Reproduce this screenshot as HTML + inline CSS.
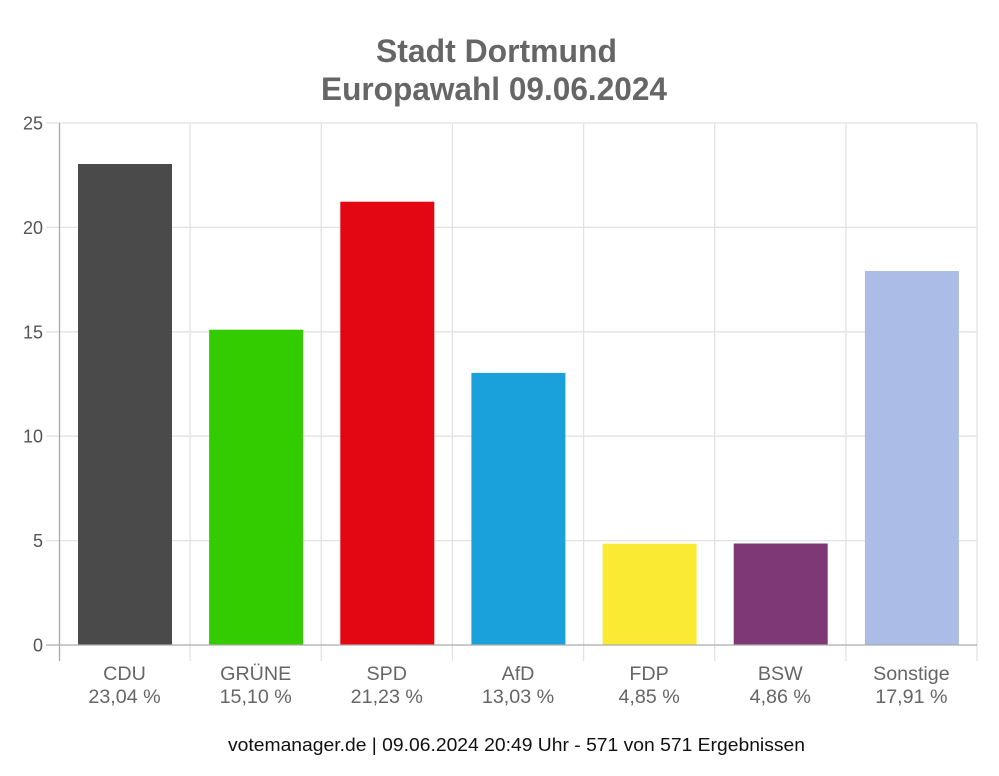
<!DOCTYPE html>
<html>
<head>
<meta charset="utf-8">
<style>
  html,body{margin:0;padding:0;background:#fff;}
  svg{display:block;}
  text{font-family:"Liberation Sans", Arial, sans-serif;}
</style>
</head>
<body>
<svg width="999" height="776" viewBox="0 0 999 776" xmlns="http://www.w3.org/2000/svg">
  <rect width="999" height="776" fill="#fff"/>
  <!-- Title -->
  <text x="496.5" y="62" text-anchor="middle" font-size="32" font-weight="bold" fill="#666" textLength="241" lengthAdjust="spacingAndGlyphs">Stadt Dortmund</text>
  <text x="494" y="100" text-anchor="middle" font-size="32" font-weight="bold" fill="#666" textLength="346" lengthAdjust="spacingAndGlyphs">Europawahl 09.06.2024</text>

  <!-- horizontal gridlines -->
  <g stroke="#e2e2e2" stroke-width="1.3">
    <line x1="46" y1="123" x2="977" y2="123"/>
    <line x1="46" y1="227.4" x2="977" y2="227.4"/>
    <line x1="46" y1="331.8" x2="977" y2="331.8"/>
    <line x1="46" y1="436.2" x2="977" y2="436.2"/>
    <line x1="46" y1="540.6" x2="977" y2="540.6"/>
  </g>
  <!-- vertical gridlines -->
  <g stroke="#e2e2e2" stroke-width="1.3">
    <line x1="190.1" y1="123" x2="190.1" y2="661"/>
    <line x1="321.3" y1="123" x2="321.3" y2="661"/>
    <line x1="452.4" y1="123" x2="452.4" y2="661"/>
    <line x1="583.6" y1="123" x2="583.6" y2="661"/>
    <line x1="714.7" y1="123" x2="714.7" y2="661"/>
    <line x1="845.9" y1="123" x2="845.9" y2="661"/>
    <line x1="977" y1="123" x2="977" y2="661"/>
  </g>

  <!-- bars -->
  <rect x="78" y="164" width="94" height="481" fill="#4a4a4a"/>
  <rect x="209.1" y="329.7" width="94" height="315.3" fill="#33cc00"/>
  <rect x="340.3" y="201.7" width="94" height="443.3" fill="#e30613"/>
  <rect x="471.4" y="372.9" width="94" height="272.1" fill="#1aa0db"/>
  <rect x="602.6" y="543.7" width="94" height="101.3" fill="#faea33"/>
  <rect x="733.7" y="543.5" width="94" height="101.5" fill="#7e3876"/>
  <rect x="864.9" y="271" width="94" height="374" fill="#abbde6"/>

  <!-- axes -->
  <line x1="59.5" y1="123" x2="59.5" y2="661" stroke="#aaa" stroke-width="1.3"/>
  <line x1="46" y1="645" x2="977" y2="645" stroke="#aaa" stroke-width="1.3"/>

  <!-- y labels -->
  <g font-size="18" fill="#555" text-anchor="end">
    <text x="43" y="129.5">25</text>
    <text x="43" y="233.9">20</text>
    <text x="43" y="338.3">15</text>
    <text x="43" y="442.7">10</text>
    <text x="43" y="547.1">5</text>
    <text x="43" y="651.5">0</text>
  </g>

  <!-- x labels -->
  <g font-size="19.7" fill="#666" text-anchor="middle">
    <text x="124.5" y="680">CDU</text>
    <text x="124.5" y="703">23,04 %</text>
    <text x="255.7" y="680">GRÜNE</text>
    <text x="255.7" y="703">15,10 %</text>
    <text x="386.8" y="680">SPD</text>
    <text x="386.8" y="703">21,23 %</text>
    <text x="518" y="680">AfD</text>
    <text x="518" y="703">13,03 %</text>
    <text x="649.1" y="680">FDP</text>
    <text x="649.1" y="703">4,85 %</text>
    <text x="780.3" y="680">BSW</text>
    <text x="780.3" y="703">4,86 %</text>
    <text x="911.4" y="680">Sonstige</text>
    <text x="911.4" y="703">17,91 %</text>
  </g>

  <!-- footer -->
  <text x="516.5" y="751" text-anchor="middle" font-size="18.5" fill="#111" textLength="577" lengthAdjust="spacingAndGlyphs">votemanager.de | 09.06.2024 20:49 Uhr - 571 von 571 Ergebnissen</text>
</svg>
</body>
</html>
